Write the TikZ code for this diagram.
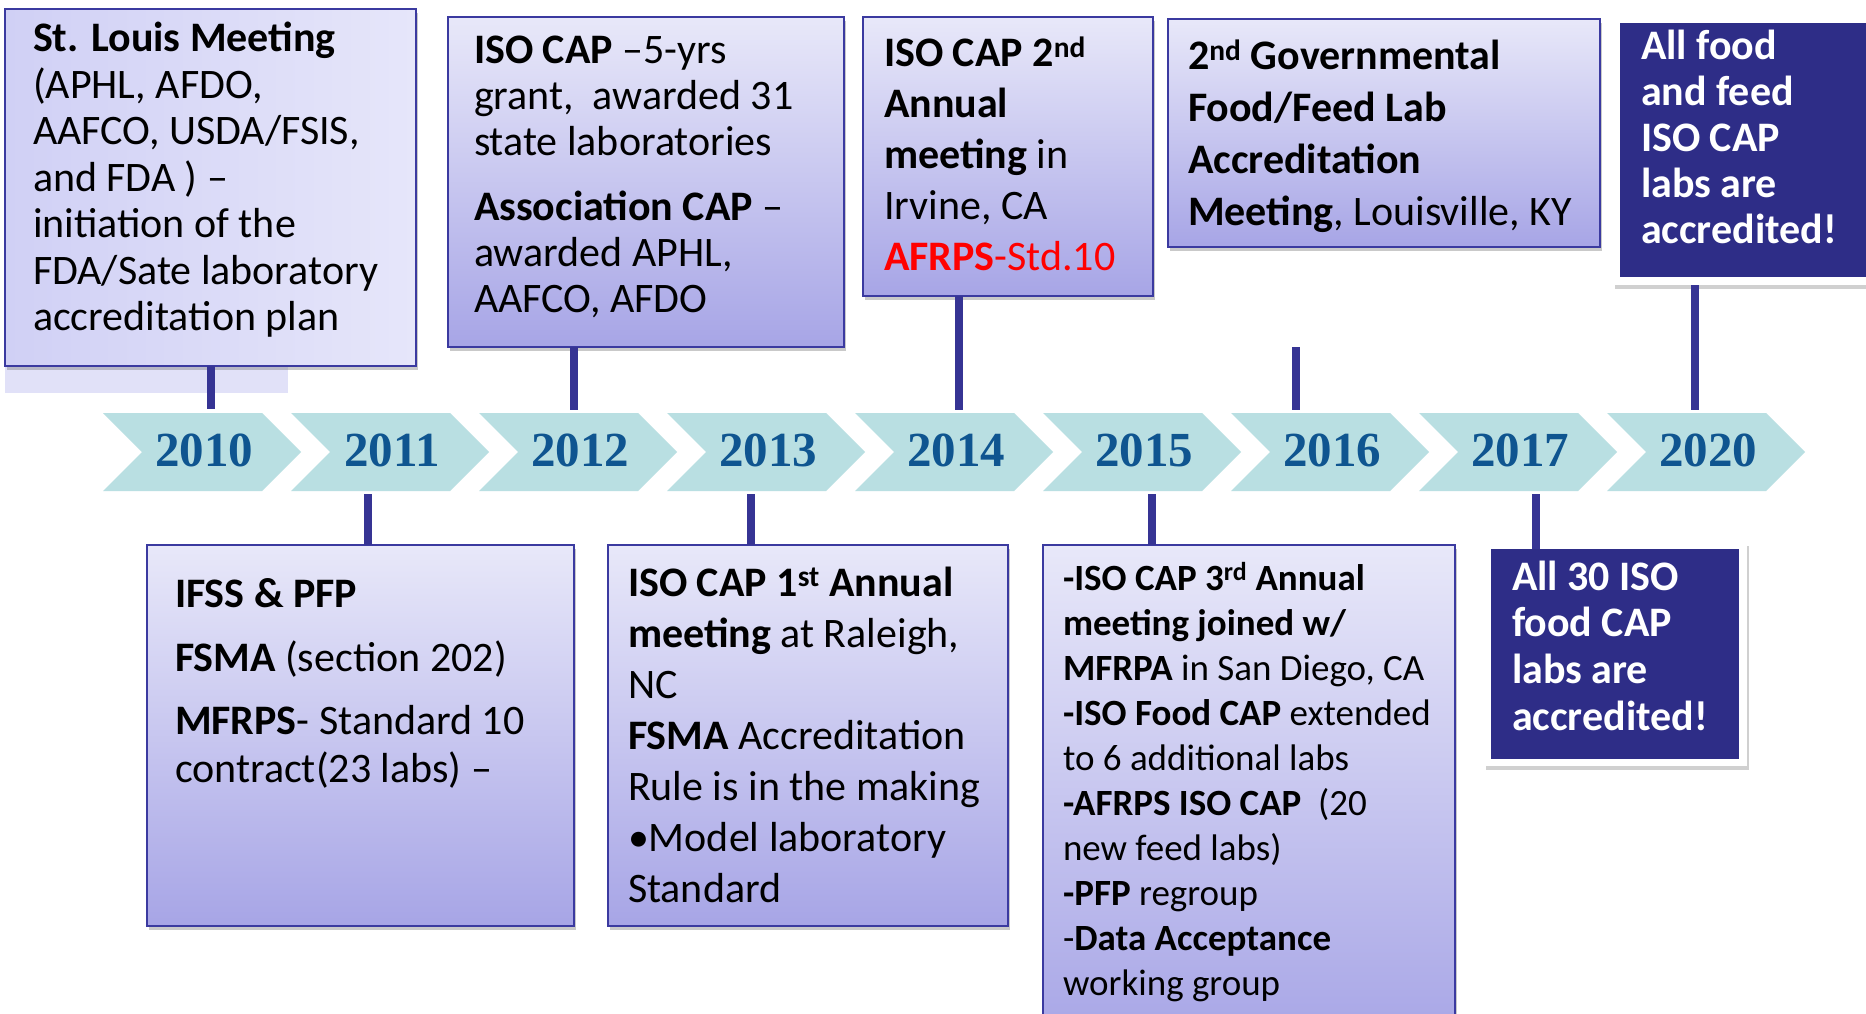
\documentclass[tikz,border=0pt]{standalone}
\usepackage{fontspec}
\setmainfont{Carlito}
\newfontfamily\yearfont{Liberation Serif}
\usetikzlibrary{shadows}
\definecolor{boxtop}{HTML}{E8E8F9}
\definecolor{boxbot}{HTML}{A7A5E6}
\definecolor{boxline}{HTML}{3B3AA0}
\definecolor{darkbox}{HTML}{2E2D87}
\definecolor{connc}{HTML}{363494}
\definecolor{chev}{HTML}{B9DFE2}
\definecolor{yearc}{HTML}{0F5590}
\definecolor{lav}{HTML}{E1E1F8}
\definecolor{lavA}{HTML}{D0D0F5}
\definecolor{lavB}{HTML}{E6E6FA}
\definecolor{afred}{HTML}{FF0000}
\tikzset{
  evbox/.style={draw=boxline, line width=2.5pt, top color=boxtop, bottom color=boxbot,
    inner sep=0pt, outer sep=0pt, anchor=north west,
    drop shadow={shadow xshift=2pt, shadow yshift=-4pt, opacity=0.35, fill=black!60}},
  frame/.style={fill=white, inner sep=0pt, outer sep=0pt, anchor=north west,
    drop shadow={shadow xshift=2pt, shadow yshift=-4pt, opacity=0.3, fill=black!60}},
  darkfill/.style={fill=darkbox, inner sep=0pt, outer sep=0pt, anchor=north west},
  txt/.style={inner sep=0pt, outer sep=0pt, anchor=base west},
  conn/.style={draw=connc, line width=8pt},
  chevshape/.style={fill=chev},
  yearlbl/.style={font=\yearfont\bfseries\fontsize{49}{52}\selectfont, text=yearc, inner sep=0pt, anchor=base}
}
\newcommand{\sz}[2]{\fontsize{#1}{#2}\selectfont}
\begin{document}
\begin{tikzpicture}[x=1pt,y=-1pt]
\clip (0,0) rectangle (1866,1014);
\fill[white] (0,0) rectangle (1866,1014);

% chevrons
\foreach \yr [count=\i from 0] in {2010,2011,2012,2013,2014,2015,2016,2017,2020}{
  \pgfmathsetmacro{\L}{103+188*\i}
  \fill[chevshape] (\L,413) -- (\L+159,413) -- (\L+198,452) -- (\L+159,491) -- (\L,491) -- (\L+39,452) -- cycle;
  \node[yearlbl] (y\yr) at (\L+101,466) {\yr};
}

% connector end points
\coordinate (c2010) at (211,409);
\coordinate (c2012) at (574,410);
\coordinate (c2014) at (959,410);
\coordinate (c2016a) at (1296,347);
\coordinate (c2016) at (1296,410);
\coordinate (c2020) at (1695,410);
\coordinate (c2011) at (368,494);
\coordinate (c2013) at (751,494);
\coordinate (c2015) at (1152,494);
\coordinate (c2017) at (1536,494);

% extra lavender band under 2010 box
\fill[lav] (5,366) rectangle (288,393);

% top boxes
\node[evbox, left color=lavA, right color=lavB, minimum width=411pt, minimum height=357pt] (b2010) at (5,9) {};
\node[evbox, minimum width=396pt, minimum height=330pt] (b2012) at (448,17) {};
\node[evbox, minimum width=290pt, minimum height=279pt] (b2014) at (863,17) {};
\node[evbox, minimum width=432pt, minimum height=228pt] (b2016) at (1168,19) {};
\node[frame, minimum width=275pt, minimum height=270pt] (f2020) at (1613,15) {};
\node[darkfill, minimum width=270pt, minimum height=254pt] (b2020) at (1620,23) {};

% bottom boxes
\node[evbox, minimum width=427pt, minimum height=381pt] (b2011) at (147,545) {};
\node[evbox, minimum width=400pt, minimum height=381pt] (b2013) at (608,545) {};
\node[evbox, minimum width=412pt, minimum height=500pt] (b2015) at (1043,545) {};
\node[frame, minimum width=263pt, minimum height=224pt] (f2017) at (1484,542) {};
\node[darkfill, minimum width=248pt, minimum height=210pt] (b2017) at (1491,549) {};

% connectors
\draw[conn] (b2010.south -| c2010) -- (c2010);
\draw[conn] (b2012.south -| c2012) -- (c2012);
\draw[conn] (b2014.south -| c2014) -- (c2014);
\draw[conn] (c2016a) -- (c2016);
\draw[conn] (f2020.south -| c2020) -- (c2020);
\draw[conn] (c2011) -- (b2011.north -| c2011);
\draw[conn] (c2013) -- (b2013.north -| c2013);
\draw[conn] (c2015) -- (b2015.north -| c2015);
\draw[conn] (c2017) -- (b2017.north -| c2017);

% texts
\node[txt] (t2010) at (33,52) {\parbox[t]{380pt}{\sz{42}{46.5}\raggedright
\textbf{St. Louis Meeting}\\
(APHL, AFDO,\\
AAFCO, USDA/FSIS,\\
and FDA ) –\\
initiation of the\\
FDA/Sate laboratory\\
accreditation plan}};

\node[txt] (t2012) at (474,64) {\parbox[t]{370pt}{\sz{42}{46}\raggedright
\textbf{ISO CAP} –5-yrs\\
grant,\ \ awarded 31\\
state laboratories\\[19pt]
\textbf{Association CAP} –\\
awarded APHL,\\
AAFCO, AFDO}};

\node[txt] (t2014) at (884,67) {\parbox[t]{270pt}{\sz{42}{51}\raggedright
\textbf{ISO CAP 2\textsuperscript{nd}}\\
\textbf{Annual}\\
\textbf{meeting} in\\
Irvine, CA\\
\textcolor{afred}{\textbf{AFRPS}-Std.10}}};

\node[txt] (t2016) at (1188,70) {\parbox[t]{410pt}{\sz{42}{51.7}\raggedright
\textbf{2\textsuperscript{nd} Governmental}\\
\textbf{Food/Feed Lab}\\
\textbf{Accreditation}\\
\textbf{Meeting}, Louisville, KY}};

\node[txt, text=white] (t2020) at (1641,60) {\parbox[t]{220pt}{\sz{42}{46}\raggedright\bfseries
All food\\
and feed\\
ISO CAP\\
labs are\\
accredited!}};

\node[txt] (t2011) at (175,607) {\parbox[t]{390pt}{\sz{42}{48}\raggedright
\textbf{IFSS \& PFP}\\[16pt]
\textbf{FSMA} (section 202)\\[15pt]
\textbf{MFRPS}- Standard 10\\
contract(23 labs) –}};

\node[txt] (t2013) at (628,596) {\parbox[t]{380pt}{\sz{42}{51}\raggedright
\textbf{ISO CAP 1\textsuperscript{st} Annual}\\
\textbf{meeting} at Raleigh,\\
NC\\
\textbf{FSMA} Accreditation\\
Rule is in the making\\
•Model laboratory\\
Standard}};

\node[txt] (t2015) at (1063,590) {\parbox[t]{390pt}{\sz{37}{45}\raggedright
\textbf{-ISO CAP 3\textsuperscript{rd} Annual}\\
\textbf{meeting joined w/}\\
\textbf{MFRPA} in San Diego, CA\\
\textbf{-ISO Food CAP} extended\\
to 6 additional labs\\
\textbf{-AFRPS ISO CAP}\ \ (20\\
new feed labs)\\
\textbf{-PFP} regroup\\
-\textbf{Data Acceptance}\\
working group}};

\node[txt, text=white] (t2017) at (1512,590) {\parbox[t]{220pt}{\sz{42}{46.7}\raggedright\bfseries
All 30 ISO\\
food CAP\\
labs are\\
accredited!}};
\end{tikzpicture}
\end{document}
